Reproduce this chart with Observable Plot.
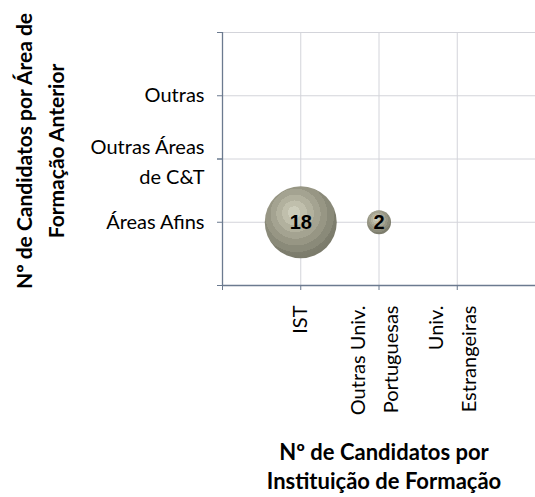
<!DOCTYPE html>
<html>
<head>
<meta charset="utf-8">
<script src="https://cdn.jsdelivr.net/npm/d3@7"></script>
<script src="https://cdn.jsdelivr.net/npm/@observablehq/plot@0.6"></script>
<style>
  html, body { margin: 0; padding: 0; background: #fff; }
  #chart { width: 535px; height: 497px; }
</style>
</head>
<body>
<div id="chart"></div>
<script>
// Categories
const instituicoes = ["IST", "Outras Univ.\nPortuguesas", "Univ.\nEstrangeiras"];
const areas = ["Áreas Afins", "Outras Áreas\nde C&T", "Outras"];
// Bubbles
const bubbleInstituicao = ["IST", "Outras Univ.\nPortuguesas"];
const bubbleArea = ["Áreas Afins", "Áreas Afins"];
const bubbleCount = [18, 2];
// Titles
const xTitle = "Nº de Candidatos por\nInstituição de Formação";
const yTitle = "Nº de Candidatos por Área de\nFormação Anterior";

const data = bubbleCount.map((n, i) => ({
  x: instituicoes.indexOf(bubbleInstituicao[i]) + 1,
  y: areas.indexOf(bubbleArea[i]) + 1,
  n
}));

const xPos = instituicoes.map((d, i) => i + 1);
const yPos = areas.map((d, i) => i + 1);
const xSingle = xPos.filter(p => !instituicoes[p - 1].includes("\n"));
const xMulti = xPos.filter(p => instituicoes[p - 1].includes("\n"));
const ySingle = yPos.filter(p => !areas[p - 1].includes("\n"));
const yMulti = yPos.filter(p => areas[p - 1].includes("\n"));

const axisColor = "#6b7a8f";
const gridColor = "#d3d4da";
const tickFont = 20;

const chart = Plot.plot({
  width: 535,
  height: 497,
  marginLeft: 222,
  marginRight: 0,
  marginTop: 32,
  marginBottom: 212,
  x: { domain: [0, 4] },
  y: { domain: [0, 4] },
  r: { domain: [0, 18], range: [0, 36] },
  style: { fontFamily: "Lato, 'Open Sans', sans-serif", fontSize: "20px", color: "#000", background: "#fff" },
  marks: [
    Plot.gridX(xPos, { stroke: gridColor, strokeOpacity: 1 }),
    Plot.gridY([...yPos, 4], { stroke: gridColor, strokeOpacity: 1 }),
    Plot.ruleX([0], { stroke: axisColor, strokeWidth: 1.3 }),
    Plot.ruleY([0], { stroke: axisColor, strokeWidth: 1.3 }),
    // y ticks + single-line labels
    Plot.axisY({
      ticks: [0, ...yPos, 4], tickSize: 5, tickPadding: 13, stroke: axisColor,
      fontSize: tickFont, lineHeight: 1,
      tickFormat: d => (ySingle.includes(d) ? areas[d - 1] : ""), label: null
    }),
    // multi-line y labels
    Plot.axisY({
      ticks: yMulti, tickSize: 5, tickPadding: 13, stroke: axisColor,
      fontSize: tickFont, lineHeight: 1.5,
      tickFormat: d => areas[d - 1], label: null
    }),
    // x ticks + single-line labels
    Plot.axisX({
      ticks: [0, ...xPos], tickSize: 5, tickPadding: 15, tickRotate: -90, stroke: axisColor,
      fontSize: tickFont, lineHeight: 1,
      tickFormat: d => (xSingle.includes(d) ? instituicoes[d - 1] : ""), label: null
    }),
    // multi-line x labels
    Plot.axisX({
      ticks: xMulti, tickSize: 0, tickPadding: 20, tickRotate: -90,
      fontSize: tickFont, lineHeight: 1.65, dx: -8,
      tickFormat: d => instituicoes[d - 1], label: null
    }),
    Plot.dot(data, { x: "x", y: "y", r: "n", fill: "url(#bubgrad)", stroke: "none" }),
    Plot.text(data, {
      x: "x", y: "y", text: d => String(d.n),
      fontWeight: "bold", fontSize: 20, fontFamily: "'Liberation Sans', Arial, sans-serif", fill: "#000"
    }),
    Plot.text([yTitle], {
      text: d => d, frameAnchor: "left", dx: -185, dy: -8, rotate: -90,
      fontWeight: "bold", fontSize: 21, lineHeight: 1.52,
      textAnchor: "middle", lineAnchor: "middle"
    }),
    Plot.text([xTitle], {
      text: d => d, frameAnchor: "bottom", dx: 5, dy: 180,
      fontWeight: "bold", fontSize: 22, lineHeight: 1.32,
      textAnchor: "middle", lineAnchor: "middle"
    })
  ]
});

d3.select(chart).insert("defs", ":first-child").html(`
  <radialGradient id="bubgrad" cx="45%" cy="40%" r="62%" fx="40%" fy="36%">
    <stop offset="0%" stop-color="#cdcdbb"/>
    <stop offset="14%" stop-color="#cdcdbb"/>
    <stop offset="14%" stop-color="#c0bfac"/>
    <stop offset="28%" stop-color="#c0bfac"/>
    <stop offset="28%" stop-color="#b2b19e"/>
    <stop offset="42%" stop-color="#b2b19e"/>
    <stop offset="42%" stop-color="#a4a391"/>
    <stop offset="56%" stop-color="#a4a391"/>
    <stop offset="56%" stop-color="#979684"/>
    <stop offset="70%" stop-color="#979684"/>
    <stop offset="70%" stop-color="#8a8a79"/>
    <stop offset="84%" stop-color="#8a8a79"/>
    <stop offset="84%" stop-color="#7e7e6e"/>
    <stop offset="100%" stop-color="#7a7a6a"/>
  </radialGradient>
`);

document.getElementById("chart").appendChild(chart);
</script>
</body>
</html>
